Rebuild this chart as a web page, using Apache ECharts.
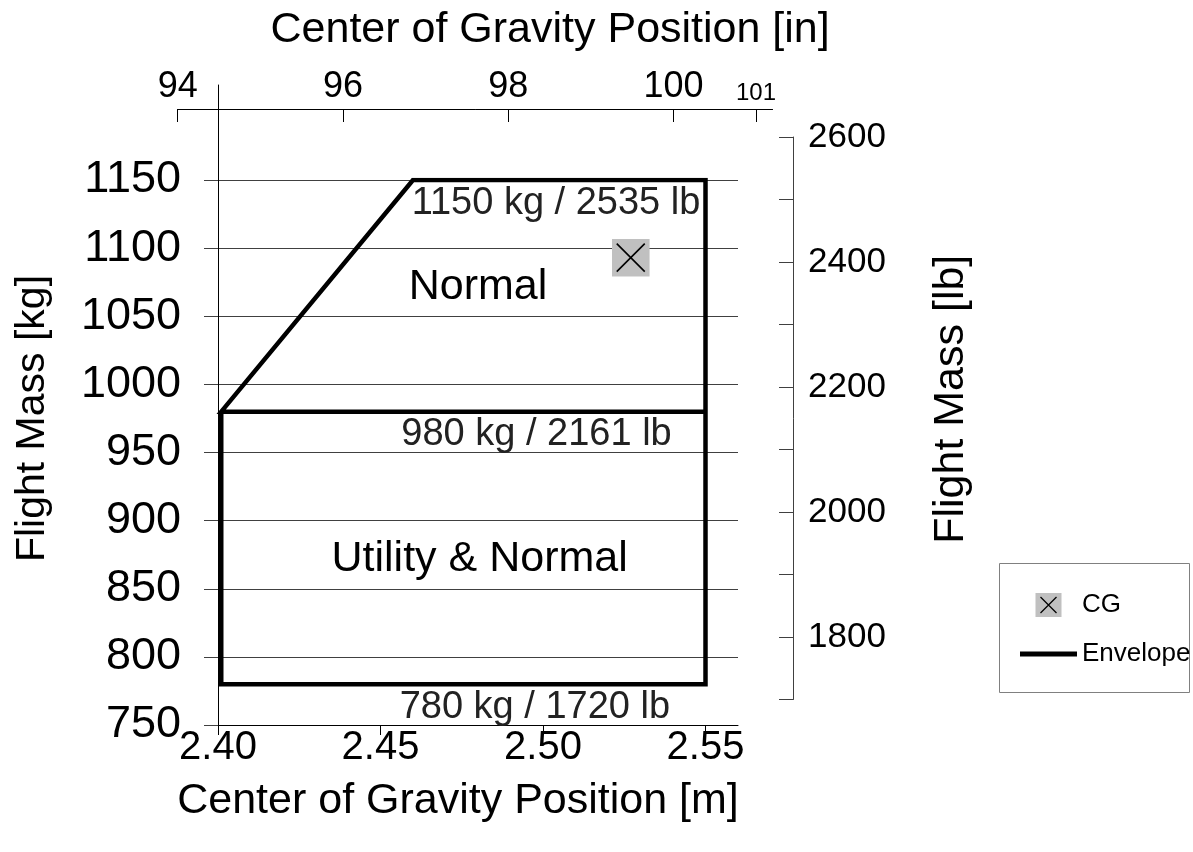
<!DOCTYPE html>
<html>
<head>
<meta charset="utf-8">
<script src="https://cdn.jsdelivr.net/npm/echarts@6/dist/echarts.min.js"></script>
<style>
  html, body { margin: 0; padding: 0; background: #fff; }
  #chart { width: 1193px; height: 852px; }
</style>
</head>
<body>
<div id="chart"></div>
<script>
// envelope corners (m, kg), walked as one polyline so every edge is drawn once
const envelopeX = [2.55, 2.401, 2.46, 2.55, 2.55, 2.401, 2.401]
const envelopeY = [980, 980, 1150, 1150, 780, 780, 980]
// measured centre of gravity
const cgX = [2.527]
const cgY = [1093]
// text notes inside the plot
const noteText = ['1150 kg / 2535 lb', 'Normal', '980 kg / 2161 lb', 'Utility & Normal', '780 kg / 1720 lb']
const noteX = [2.504, 2.480, 2.498, 2.4805, 2.4975]
const noteY = [1133, 1071.5, 963.5, 872, 763]
const noteBig = [false, true, false, true, false]
// axis ticks
const mTicks = [2.40, 2.45, 2.50, 2.55]
const inTicks = [94, 96, 98, 100, 101]
const lbLabels = [1800, 2000, 2200, 2400, 2600]

const FONT = '"Liberation Sans", Arial, sans-serif'
const INK = '#000'
const GRID_CLR = '#404040'

// layout of the main plot (pixels)
const plotLeft = 218
const plotTop = 180
const plotW = 520
const plotH = 545
const pxPerM = 3253
const inLeft = plotLeft + (94 * 0.0254 - 2.40) * pxPerM
const inW = 7.2 * 0.0254 * pxPerM

const svgUri = s => 'image://data:image/svg+xml;charset=utf-8,' + encodeURIComponent(s)
const cgSymbol = svgUri(
  '<svg xmlns="http://www.w3.org/2000/svg" width="38" height="38" viewBox="0 0 38 38">' +
  '<rect width="38" height="38" fill="#c0c0c0"/>' +
  '<path d="M5 5L33 33M33 5L5 33" stroke="#000" stroke-width="1.6"/></svg>')
const cgLegend = svgUri(
  '<svg xmlns="http://www.w3.org/2000/svg" width="57" height="24" viewBox="0 0 57 24">' +
  '<rect x="15.5" y="0" width="26" height="24" fill="#c0c0c0"/>' +
  '<path d="M20.5 4L36.5 20M36.5 4L20.5 20" stroke="#000" stroke-width="1.3"/></svg>')
const envLegend = svgUri(
  '<svg xmlns="http://www.w3.org/2000/svg" width="57" height="24" viewBox="0 0 57 24">' +
  '<rect x="0" y="9.5" width="57" height="5" fill="#000"/></svg>')

const hiddenAxis = grid => ({ gridIndex: grid, type: 'value', show: false, min: 0, max: 1 })

const chart = echarts.init(document.getElementById('chart'))

const option = {
  animation: false,
  backgroundColor: '#fff',
  textStyle: { fontFamily: FONT, color: INK },
  grid: [
    // 0: main plot, m vs kg
    { left: plotLeft, top: plotTop, width: plotW, height: plotH },
    // 1: top inch axis
    { left: inLeft, top: 109, width: inW, height: 10 },
    // 2: right lb axis
    { left: 700, top: 137, width: 93, height: 562.5 },
    // 3: long vertical line at 2.40 m
    { left: plotLeft, top: 85, width: 10, height: 640 }
  ],
  xAxis: [
    {
      gridIndex: 0, type: 'value', position: 'bottom',
      min: 2.40, max: 2.56,
      axisLine: { show: true, onZero: false, lineStyle: { color: INK, width: 1 } },
      axisTick: { show: true, customValues: mTicks, length: 10, lineStyle: { color: INK } },
      axisLabel: {
        customValues: mTicks, margin: 3, fontSize: 40, color: INK, fontFamily: FONT,
        formatter: v => v.toFixed(2)
      },
      splitLine: { show: false },
      name: 'Center of Gravity Position [m]', nameLocation: 'middle', nameGap: 55,
      nameTextStyle: { fontSize: 43, color: INK, fontFamily: FONT, padding: [0, 40, 0, 0] }
    },
    {
      gridIndex: 1, type: 'value', position: 'top',
      min: 94, max: 101.2,
      axisLine: { show: true, onZero: false, lineStyle: { color: INK, width: 1 } },
      axisTick: { show: true, inside: true, customValues: inTicks, length: 13, lineStyle: { color: INK } },
      axisLabel: {
        customValues: inTicks, margin: 4, color: INK, fontFamily: FONT,
        formatter: v => v === 101 ? '{s|101}' : '{b|' + v + '}',
        rich: { b: { fontSize: 36, fontFamily: FONT }, s: { fontSize: 24, fontFamily: FONT } }
      },
      splitLine: { show: false },
      name: 'Center of Gravity Position [in]', nameLocation: 'middle', nameGap: 57,
      nameTextStyle: { fontSize: 43, color: INK, fontFamily: FONT, padding: [0, 0, 0, 150] }
    },
    hiddenAxis(2),
    hiddenAxis(3)
  ],
  yAxis: [
    {
      gridIndex: 0, type: 'value', position: 'left',
      min: 750, max: 1150, interval: 50,
      axisLine: { show: false, onZero: false },
      axisTick: { show: true, length: 14, lineStyle: { color: GRID_CLR } },
      axisLabel: { margin: 37, fontSize: 45, color: INK, fontFamily: FONT, formatter: v => String(v) },
      splitLine: { show: true, lineStyle: { color: GRID_CLR, width: 1 } },
      name: 'Flight Mass [kg]', nameLocation: 'middle', nameGap: 165, nameRotate: 90,
      nameTextStyle: { fontSize: 41, color: INK, fontFamily: FONT, padding: [0, 0, 0, 68] }
    },
    hiddenAxis(1),
    {
      gridIndex: 2, type: 'value', position: 'right',
      min: 1700, max: 2600, interval: 100,
      axisLine: { show: true, onZero: false, lineStyle: { color: GRID_CLR, width: 1 } },
      axisTick: { show: true, inside: true, length: 14, lineStyle: { color: GRID_CLR } },
      axisLabel: {
        customValues: lbLabels, margin: 15, fontSize: 35, color: INK, fontFamily: FONT,
        formatter: v => String(v)
      },
      splitLine: { show: false },
      name: 'Flight Mass [lb]', nameLocation: 'middle', nameGap: 137, nameRotate: 90,
      nameTextStyle: { fontSize: 43, color: INK, fontFamily: FONT, padding: [0, 0, 0, 38] }
    },
    {
      gridIndex: 3, type: 'value', position: 'left',
      min: 0, max: 1,
      axisLine: { show: true, onZero: false, lineStyle: { color: INK, width: 1 } },
      axisTick: { show: false }, axisLabel: { show: false }, splitLine: { show: false }
    }
  ],
  legend: {
    orient: 'vertical', left: 1015, top: 587,
    itemWidth: 57, itemHeight: 24, itemGap: 23,
    textStyle: { fontSize: 26, color: INK, fontFamily: FONT },
    data: [{ name: 'CG', icon: cgLegend }, { name: 'Envelope', icon: envLegend }]
  },
  graphic: [{
    type: 'rect', z: -1,
    shape: { x: 999.5, y: 563.5, width: 190, height: 129 },
    style: { fill: '#fff', stroke: '#808080', lineWidth: 1 }
  }],
  series: [
    {
      name: 'Envelope', type: 'line', xAxisIndex: 0, yAxisIndex: 0,
      data: envelopeX.map((x, i) => [x, envelopeY[i]]),
      symbol: 'none', lineStyle: { color: INK, width: 4.5, join: 'miter' },
      z: 3
    },
    {
      name: 'CG', type: 'scatter', xAxisIndex: 0, yAxisIndex: 0,
      data: cgX.map((x, i) => [x, cgY[i]]),
      symbol: cgSymbol, symbolSize: 38, itemStyle: { opacity: 1 }, z: 4
    },
    {
      name: 'notes', type: 'scatter', xAxisIndex: 0, yAxisIndex: 0,
      data: noteX.map((x, i) => ({ value: [x, noteY[i]], text: noteText[i], big: noteBig[i] })),
      symbolSize: 0, silent: true, z: 5, itemStyle: { opacity: 1 },
      label: {
        show: true, position: 'inside',
        formatter: p => (p.data.big ? '{b|' : '{s|') + p.data.text + '}',
        rich: {
          b: { fontSize: 43, color: INK, fontFamily: FONT },
          s: { fontSize: 38, color: '#222', fontFamily: FONT }
        }
      }
    }
  ]
}

chart.setOption(option)
</script>
</body>
</html>
